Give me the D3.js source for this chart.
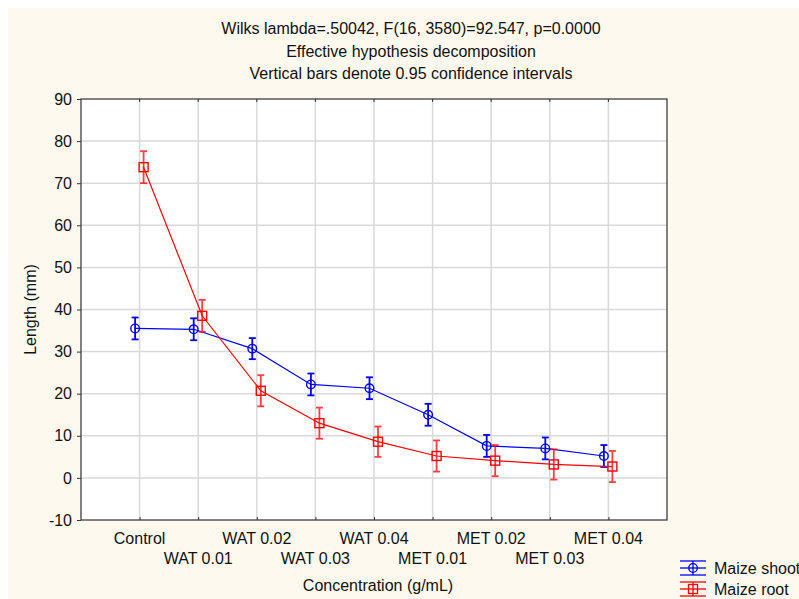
<!DOCTYPE html>
<html>
<head>
<meta charset="utf-8">
<script src="https://cdn.jsdelivr.net/npm/d3@7/dist/d3.min.js"></script>
<style>
  body { margin: 0; background: #fff; }
  svg { display: block; font-family: "Liberation Sans", Arial, sans-serif; }
</style>
</head>
<body>
<div id="chart"></div>
<script>
// categories + values
var categories = ["Control", "WAT 0.01", "WAT 0.02", "WAT 0.03", "WAT 0.04",
  "MET 0.01", "MET 0.02", "MET 0.03", "MET 0.04"];
var shootMean = [35.5, 35.3, 30.7, 22.2, 21.3, 15.0, 7.6, 7.0, 5.2];
var shootCI   = [2.6, 2.6, 2.5, 2.6, 2.6, 2.6, 2.6, 2.6, 2.6];
var rootMean  = [73.8, 38.5, 20.7, 13.0, 8.6, 5.2, 4.1, 3.2, 2.7];
var rootCI    = [3.8, 3.8, 3.7, 3.7, 3.6, 3.7, 3.7, 3.6, 3.7];
var yTickValues = [-10, 0, 10, 20, 30, 40, 50, 60, 70, 80, 90];
var titleLines = [
  "Wilks lambda=.50042, F(16, 3580)=92.547, p=0.0000",
  "Effective hypothesis decomposition",
  "Vertical bars denote 0.95 confidence intervals"
];

(function() {
  var W = 799, H = 599;
  var margin = { top: 99, left: 81 },
    width = 586,
    height = 421;
  var fs = 16;

  var root = d3.select("#chart").append("svg")
    .attr("width", W)
    .attr("height", H);

  // cream panel
  root.append("rect")
    .attr("x", 8).attr("y", 8)
    .attr("width", W - 8).attr("height", H - 8)
    .attr("fill", "#fdf9ee");

  // titles
  root.selectAll(".title")
    .data(titleLines)
    .enter().append("text")
    .attr("class", "title")
    .attr("x", 411)
    .attr("y", function(d, i) { return 34 + i * 22.5 })
    .attr("text-anchor", "middle")
    .attr("font-size", fs)
    .attr("fill", "#111")
    .text(function(d) { return d });

  var svg = root.append("g")
    .attr("transform", "translate(" + margin.left + "," + margin.top + ")");

  var xPositionScale = d3.scalePoint()
    .domain(categories)
    .range([0, width])
    .padding(1);

  var yPositionScale = d3.scaleLinear()
    .domain([-10, 90])
    .range([height, 0]);

  svg.append("rect")
    .attr("width", width).attr("height", height)
    .attr("fill", "#fff");

  // grid
  svg.append("g").selectAll("line")
    .data(yTickValues.slice(1, -1))
    .enter().append("line")
    .attr("x1", 0).attr("x2", width)
    .attr("y1", function(d) { return yPositionScale(d) })
    .attr("y2", function(d) { return yPositionScale(d) })
    .attr("stroke", "#d9d9d9")
    .attr("stroke-width", 1.5);

  svg.append("g").selectAll("line")
    .data(categories)
    .enter().append("line")
    .attr("y1", 0).attr("y2", height)
    .attr("x1", function(d) { return xPositionScale(d) })
    .attr("x2", function(d) { return xPositionScale(d) })
    .attr("stroke", "#d9d9d9")
    .attr("stroke-width", 1.5);

  // axes
  var yAxis = d3.axisLeft(yPositionScale)
    .tickValues(yTickValues)
    .tickFormat(function(d) { return String(d) })
    .tickSize(4).tickPadding(5);
  var yG = svg.append("g").attr("class", "axis y-axis").call(yAxis);
  yG.selectAll("text").attr("font-size", fs).attr("fill", "#111").attr("font-family", null);

  var xAxis = d3.axisBottom(xPositionScale).tickSize(-3).tickFormat("");
  svg.append("g")
    .attr("class", "axis x-axis")
    .attr("transform", "translate(0," + height + ")")
    .call(xAxis);

  svg.selectAll(".domain").remove();
  svg.selectAll(".tick line").attr("stroke", "#333");

  // staggered category labels
  svg.append("g").selectAll("text")
    .data(categories)
    .enter().append("text")
    .attr("x", function(d) { return xPositionScale(d) })
    .attr("y", function(d, i) { return height + (i % 2 === 0 ? 24 : 44) })
    .attr("text-anchor", "middle")
    .attr("font-size", fs)
    .attr("fill", "#111")
    .text(function(d) { return d });

  // frame
  svg.append("rect")
    .attr("width", width).attr("height", height)
    .attr("fill", "none")
    .attr("stroke", "#404040")
    .attr("stroke-width", 1.3);

  // top ticks
  svg.append("g").selectAll("line")
    .data(categories)
    .enter().append("line")
    .attr("x1", function(d) { return xPositionScale(d) })
    .attr("x2", function(d) { return xPositionScale(d) })
    .attr("y1", 0).attr("y2", 3)
    .attr("stroke", "#333");

  // axis titles
  svg.append("text")
    .attr("x", width / 2 + 4)
    .attr("y", height + 71)
    .attr("text-anchor", "middle")
    .attr("font-size", fs)
    .attr("fill", "#111")
    .text("Concentration (g/mL)");

  svg.append("text")
    .attr("transform", "translate(" + (-45) + "," + (height / 2) + ") rotate(-90)")
    .attr("text-anchor", "middle")
    .attr("font-size", fs)
    .attr("fill", "#111")
    .text("Length (mm)");

  // series
  var series = [
    { name: "Maize shoot", mean: shootMean, ci: shootCI, color: "#0000ff", dx: -4.5, shape: "circle" },
    { name: "Maize root", mean: rootMean, ci: rootCI, color: "#ff0000", dx: 4, shape: "square" }
  ];

  var line = d3.line()
    .x(function(d) { return d.x })
    .y(function(d) { return yPositionScale(d.v) });

  series.forEach(function(s) {
    var pts = categories.map(function(c, i) {
      return { x: xPositionScale(c) + s.dx, v: s.mean[i], ci: s.ci[i] };
    });
    var g = svg.append("g");

    g.append("path")
      .datum(pts)
      .attr("d", line)
      .attr("fill", "none")
      .attr("stroke", s.color)
      .attr("stroke-width", 1.2);

    var bars = g.selectAll(".err")
      .data(pts)
      .enter().append("g")
      .attr("stroke", s.color)
      .attr("stroke-width", 1.8)
      .attr("opacity", s.shape === "square" ? 0.75 : 1);
    bars.append("line")
      .attr("x1", function(d) { return d.x }).attr("x2", function(d) { return d.x })
      .attr("y1", function(d) { return yPositionScale(d.v + d.ci) })
      .attr("y2", function(d) { return yPositionScale(d.v - d.ci) });
    bars.append("line")
      .attr("x1", function(d) { return d.x - 3.5 }).attr("x2", function(d) { return d.x + 3.5 })
      .attr("y1", function(d) { return yPositionScale(d.v + d.ci) })
      .attr("y2", function(d) { return yPositionScale(d.v + d.ci) });
    bars.append("line")
      .attr("x1", function(d) { return d.x - 3.5 }).attr("x2", function(d) { return d.x + 3.5 })
      .attr("y1", function(d) { return yPositionScale(d.v - d.ci) })
      .attr("y2", function(d) { return yPositionScale(d.v - d.ci) });

    if (s.shape === "circle") {
      g.selectAll(".mk").data(pts).enter().append("circle")
        .attr("cx", function(d) { return d.x })
        .attr("cy", function(d) { return yPositionScale(d.v) })
        .attr("r", 4.3)
        .attr("fill", "none")
        .attr("stroke", s.color)
        .attr("stroke-width", 1.4);
    } else {
      g.selectAll(".mk").data(pts).enter().append("rect")
        .attr("x", function(d) { return d.x - 4.5 })
        .attr("y", function(d) { return yPositionScale(d.v) - 4.5 })
        .attr("width", 9).attr("height", 9)
        .attr("fill", "none")
        .attr("stroke", s.color)
        .attr("stroke-width", 1.4);
    }
  });

  // legend
  var legend = root.append("g").attr("transform", "translate(680,568)");
  series.forEach(function(s, i) {
    var lg = legend.append("g")
      .attr("transform", "translate(0," + (i * 21) + ")")
      .attr("stroke", s.color)
      .attr("fill", "none")
      .attr("stroke-width", 1.3);
    [-7, 0, 7].forEach(function(dy) {
      lg.append("line").attr("x1", 0).attr("x2", 26).attr("y1", dy).attr("y2", dy);
    });
    lg.append("line").attr("x1", 13).attr("x2", 13).attr("y1", -7).attr("y2", 7);
    if (s.shape === "circle") {
      lg.append("circle").attr("cx", 13).attr("cy", 0).attr("r", 4.3);
    } else {
      lg.append("rect").attr("x", 8.5).attr("y", -4.5).attr("width", 9).attr("height", 9);
    }
    legend.append("text")
      .attr("x", 34)
      .attr("y", i * 21 + 6)
      .attr("font-size", fs)
      .attr("fill", "#111")
      .text(s.name);
  });
})();
</script>
</body>
</html>
